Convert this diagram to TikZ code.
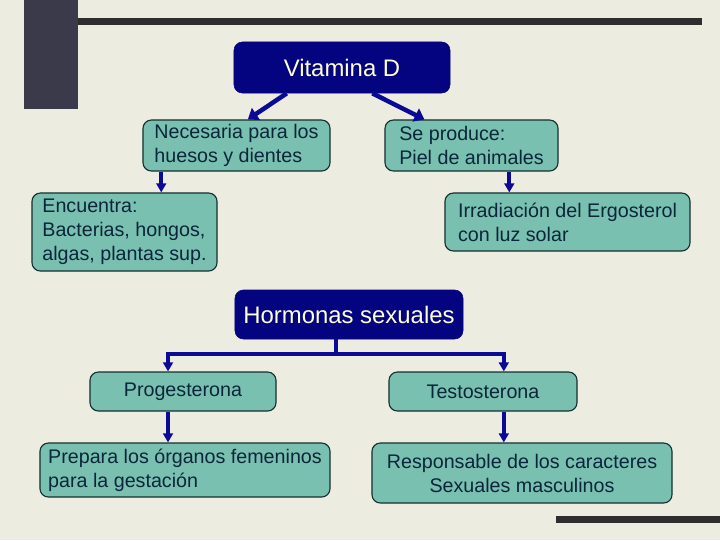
\documentclass[tikz,border=0pt]{standalone}
\usepackage{fontspec}
\setmainfont{Liberation Sans}
\usetikzlibrary{arrows.meta,calc}
\definecolor{fondo}{RGB}{236,236,224}
\definecolor{barra}{RGB}{58,58,74}
\definecolor{linea}{RGB}{46,46,46}
\definecolor{azul}{RGB}{4,4,128}
\definecolor{flechaazul}{RGB}{10,10,150}
\definecolor{verde}{RGB}{122,192,176}
\definecolor{borde}{RGB}{20,48,48}
\definecolor{texto}{RGB}{10,38,58}
\definecolor{claro}{RGB}{255,255,215}

\begin{document}
\begin{tikzpicture}[x=0.025cm,y=-0.025cm,
  caja/.style={draw=borde,fill=verde,line width=0.8pt,rounded corners=6pt,text=texto,
    font=\fontsize{14}{17}\selectfont,inner sep=0pt,align=left},
  titulo/.style={draw=azul,fill=azul,rounded corners=6pt,text=claro,
    font=\fontsize{17}{20}\selectfont,inner sep=0pt},
  gruesa/.style={draw=flechaazul,line width=3.2pt,-{Triangle[length=7pt,width=10pt]}},
  flecha/.style={draw=flechaazul,line width=2.6pt,-{Triangle[length=6.5pt,width=7pt]}},
  tramo/.style={draw=flechaazul,line width=2.6pt}]
\fill[fondo] (0,0) rectangle (720,540);
\fill[barra] (24,0) rectangle (78,109);
\fill[linea] (78,18) rectangle (702,25);
\fill[linea] (556,516) rectangle (720,523);

\node[titulo,minimum width=5.4cm,minimum height=1.275cm] (vit) at (342,67.5) {Vitamina D};
\node[caja,minimum width=4.675cm,minimum height=1.275cm] (nec) at (236.5,145.5) {Necesaria para los\\huesos y dientes};
\node[caja,minimum width=4.325cm,minimum height=1.275cm] (sep) at (471.5,145.5) {Se produce:\\Piel de animales};
\node[caja,minimum width=4.625cm,minimum height=1.95cm] (enc) at (124.5,232) {Encuentra:\\Bacterias, hongos,\\algas, plantas sup.};
\node[caja,minimum width=6.125cm,minimum height=1.45cm] (irr) at (567.5,222) {Irradiación del Ergosterol\\con luz solar};

\node[titulo,minimum width=5.7cm,minimum height=1.225cm] (hor) at (349,314.5) {Hormonas sexuales};
\node[caja,align=center,minimum width=4.65cm,minimum height=0.975cm] (prog) at (183,391.5) {Progesterona};
\node[caja,align=center,minimum width=4.7cm,minimum height=0.975cm] (test) at (483,391.5) {Testosterona};
\node[caja,minimum width=7.25cm,minimum height=1.35cm] (prep) at (185,470) {Prepara los órganos femeninos\\para la gestación};
\node[caja,align=center,minimum width=7.5cm,minimum height=1.5cm] (resp) at (522,473) {Responsable de los caracteres\\Sexuales masculinos};

\draw[gruesa] ($(vit.south west)!0.245!(vit.south east)$) -- ($(nec.north west)!0.56!(nec.north east)$);
\draw[gruesa] ($(vit.south west)!0.64!(vit.south east)$) -- ($(sep.north west)!0.23!(sep.north east)$);

\coordinate (n1) at ($(nec.south west)!0.1!(nec.south east)$);
\coordinate (s1) at ($(sep.south west)!0.717!(sep.south east)$);
\draw[flecha] (n1) -- (n1 |- enc.north);
\draw[flecha] (s1) -- (s1 |- irr.north);

\coordinate (h1) at ($(hor.south west)!0.443!(hor.south east)$);
\coordinate (h2) at ($(h1)+(0,15)$);
\coordinate (p1) at ($(prog.north west)!0.42!(prog.north east)$);
\coordinate (t1) at ($(test.north west)!0.61!(test.north east)$);
\draw[tramo] (h1) -- (h2);
\draw[flecha] (h2) -| (p1);
\draw[flecha] (h2) -| (t1);

\coordinate (p2) at (prog.south -| p1);
\coordinate (t2) at (test.south -| t1);
\draw[flecha] (p2) -- (p2 |- prep.north);
\draw[flecha] (t2) -- (t2 |- resp.north);
\end{tikzpicture}
\end{document}
